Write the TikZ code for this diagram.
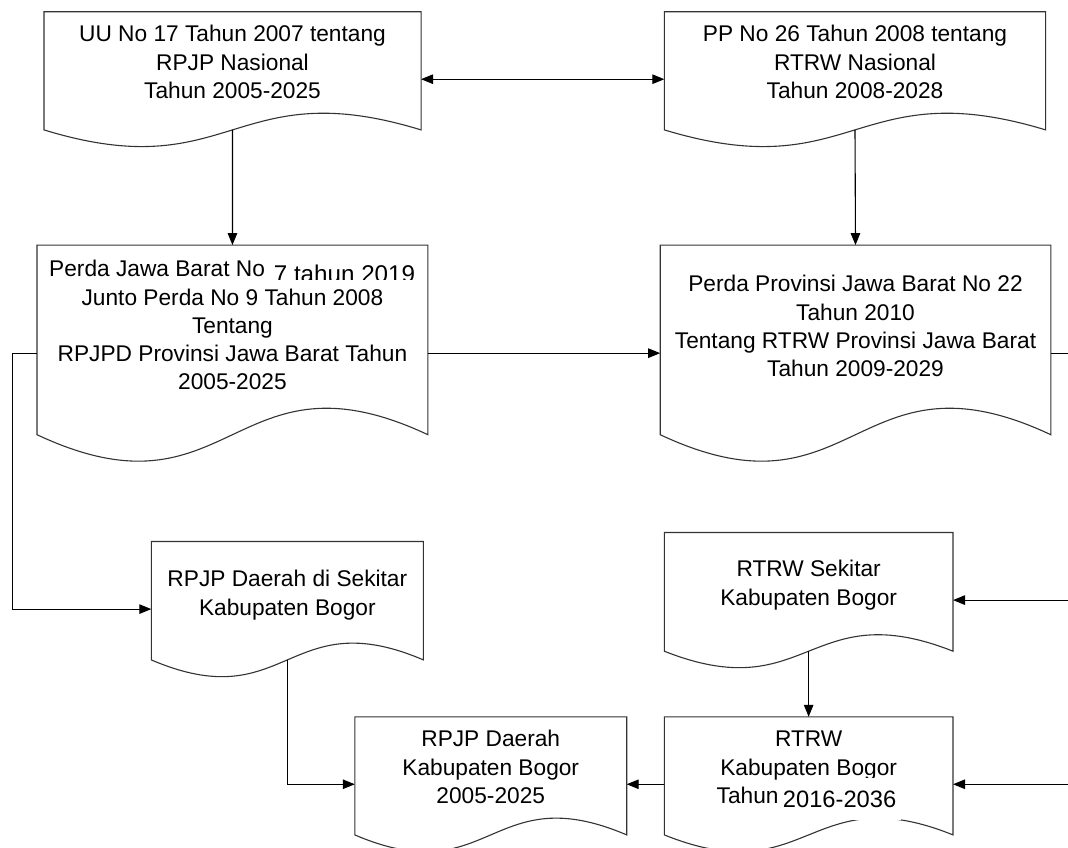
\documentclass[tikz,border=0pt]{standalone}
\usepackage{fontspec}
\setmainfont{Liberation Sans}
\usetikzlibrary{arrows.meta,calc}
\tikzset{
  docnode/.style={rectangle, draw=none, inner sep=0pt},
  docline/.style={draw=black!80, line width=1.1pt, fill=white},
  doctext/.style={align=center, inner sep=0pt, font=\fontsize{22.7}{28.3}\selectfont},
  conn/.style={draw=black, line width=1.1pt},
  arr/.style={conn, -{Triangle[length=12pt,width=9.5pt]}},
  darr/.style={conn, {Triangle[length=12pt,width=9.5pt]}-{Triangle[length=12pt,width=9.5pt]}},
}
\newcommand{\drawdoc}[2]{%
  \draw[docline] ($(#1.south west)+(0,-#2)$) -- (#1.north west) -- (#1.north east) -- ($(#1.south east)+(0,-#2)$)
   .. controls ($(#1.south)+(0,-4.46*#2)$) and ($(#1.south)+(0,2.46*#2)$) .. ($(#1.south west)+(0,-#2)$) -- cycle;
  \coordinate (#1w) at ($(#1.south)+(0,-#2)$);
}
\begin{document}
\begin{tikzpicture}[x=1pt,y=-1pt]
\clip (0,0) rectangle (1068,848);
\useasboundingbox (0,0) rectangle (1068,848);
\fill[white] (0,0) rectangle (1068,848);

% document shapes
\node[docnode, minimum width=376.7pt, minimum height=134.4pt] (b1) at (232.5,79.2) {};
\node[docnode, minimum width=380.9pt, minimum height=134.4pt] (b2) at (855,79.2) {};
\node[docnode, minimum width=390.5pt, minimum height=215.7pt] (b3) at (232.45,353.15) {};
\node[docnode, minimum width=390.2pt, minimum height=215.7pt] (b4) at (855.5,353.15) {};
\node[docnode, minimum width=271.7pt, minimum height=134.8pt] (b5) at (287.35,609.1) {};
\node[docnode, minimum width=288.3pt, minimum height=134.8pt] (b6) at (808.65,600.1) {};
\node[docnode, minimum width=271.5pt, minimum height=134.5pt] (b7) at (490.75,784.25) {};
\node[docnode, minimum width=288.3pt, minimum height=134.5pt] (b8) at (808.65,784.25) {};

\drawdoc{b1}{16.7}
\drawdoc{b2}{16.7}
\drawdoc{b3}{26.5}
\drawdoc{b4}{26.5}
\drawdoc{b5}{16.8}
\drawdoc{b6}{16.5}
\drawdoc{b7}{16.8}
\drawdoc{b8}{16.8}

% texts
\node[doctext] (t1) at (232.5,64.4) {\strut UU No 17 Tahun 2007 tentang\\\strut RPJP Nasional\\\strut Tahun 2005-2025};
\node[doctext] (t2) at (855,64.4) {\strut PP No 26 Tahun 2008 tentang\\\strut RTRW Nasional\\\strut Tahun 2008-2028};
\node[doctext] (t3) at (232.45,327.7) {\strut Perda Jawa Barat No\makebox[10.6pt]{}\hphantom{\fontsize{24}{28.3}\selectfont 7 tahun 2019}\\\strut Junto Perda No 9 Tahun 2008\\\strut Tentang\\\strut RPJPD Provinsi Jawa Barat Tahun\\\strut 2005-2025};
\begin{scope}
\clip (260,250) rectangle (425,279.3);
\node[anchor=base west, inner sep=0pt, font=\fontsize{24.2}{28}\selectfont] (t3b) at (273.65,282) {7 tahun 2019};
\end{scope}
\node[doctext] (t4) at (855.5,328.5) {\strut Perda Provinsi Jawa Barat No 22\\\strut Tahun 2010\\\strut Tentang RTRW Provinsi Jawa Barat\\\strut Tahun 2009-2029};
\node[doctext] (t5) at (287.35,595.2) {\strut RPJP Daerah di Sekitar\\\strut Kabupaten Bogor};
\node[doctext] (t6) at (808.65,585.2) {\strut RTRW Sekitar\\\strut Kabupaten Bogor};
\node[doctext] (t7) at (490.75,769.4) {\strut RPJP Daerah\\\strut Kabupaten Bogor\\\strut 2005-2025};
\node[doctext] (t8) at (808.65,769.4) {\strut RTRW\\\strut Kabupaten Bogor\\\strut Tahun\makebox[122pt]{}};
\node[anchor=base west, fill=white, inner xsep=5pt, inner ysep=0pt, text height=29pt, text depth=13pt, font=\fontsize{23.7}{28}\selectfont] (t8b) at (777.7,807) {2016-2036};

% connectors
\coordinate (edgeR) at (1068,0);
\coordinate (busL) at (12.4,0);
\draw[arr] (b1w) -- (b3.north);
\draw[arr] (b2w) -- (b4.north);
\draw[darr] (b1.east) -- (b2.west);
\draw[arr] (b3.east) -- (b4.west);
\draw[conn] (b4.east) -- (b4.east -| edgeR);
\draw[arr] (b3.west) -- (b3.west -| busL) |- (b5.west);
\draw[arr] (b5w) |- (b7.west);
\draw[arr] (b6w) -- (b8.north);
\draw[arr] (b6.east -| edgeR) -- (b6.east);
\draw[arr] (b8.east -| edgeR) -- (b8.east);
\draw[arr] (b8.west) -- (b7.east);
\end{tikzpicture}
\end{document}
